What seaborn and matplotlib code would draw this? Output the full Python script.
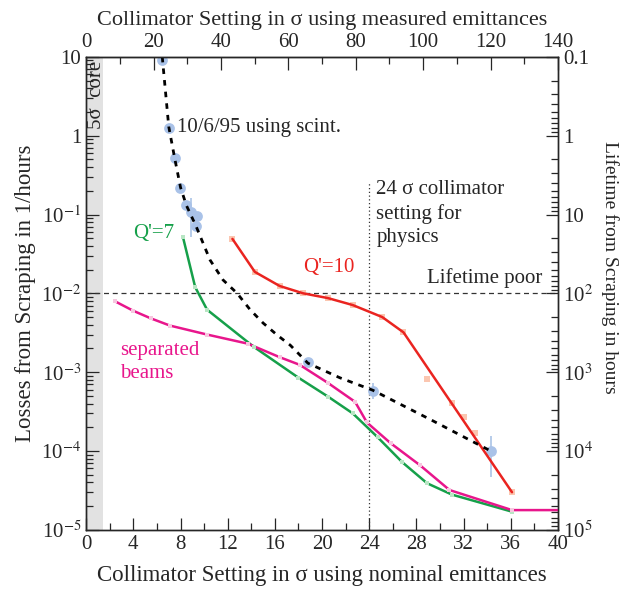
import numpy as np
import pandas as pd
import seaborn as sn
import matplotlib.pyplot as plt
from matplotlib.ticker import FuncFormatter, LogLocator, MultipleLocator, NullFormatter

sn.set_style("ticks")
plt.rcParams['font.family'] = ['Liberation Serif', 'DejaVu Serif']
plt.rcParams['mathtext.fontset'] = 'stix'

# scint. measurement 10/6/95 (blue points) and the fit (black dotted)
scint_x = [6.45, 7.0, 7.55, 7.95, 8.45, 8.9, 9.4, 9.3, 18.8, 24.3, 34.3]
scint_y = [9.2, 1.26, 0.52, 0.22, 0.132, 0.108, 0.096, 0.072, 1.33e-3, 5.8e-4, 1.0e-4]
err_x = [8.9, 24.3, 34.3]
err_lo = [0.052, 4.6e-4, 4.7e-5]
err_hi = [0.16, 7.2e-4, 1.55e-4]
fit_x = [6.45, 7.0, 7.5, 8.0, 8.5, 9.3, 10.5, 11.6, 12.8, 13.9, 15.0, 16.2, 17.3, 18.8, 21.5, 24.3, 29.2, 34.3]
fit_y = [10.0, 1.3, 0.52, 0.22, 0.13, 0.072, 0.0265, 0.0148, 0.01, 6.2e-3, 4.2e-3, 2.95e-3, 2.2e-3, 1.3e-3, 8.5e-4, 5.9e-4, 2.5e-4, 1.0e-4]

# Q'=7 (green)
q7_x = [8.2, 9.24, 10.25, 14.2, 18.0, 20.5, 22.6, 24.7, 26.8, 28.9, 31.0, 36.1]
q7_y = [0.052, 0.012, 6.2e-3, 2.1e-3, 8.5e-4, 4.9e-4, 3.0e-4, 1.5e-4, 7.2e-5, 3.9e-5, 2.8e-5, 1.7e-5]

# Q'=10 (red)
q10_x = [12.4, 14.3, 16.4, 18.4, 20.5, 22.6, 25.1, 26.9, 36.1]
q10_y = [0.049, 0.0187, 0.0124, 0.010, 8.7e-3, 7.1e-3, 5.0e-3, 3.2e-3, 3.0e-5]
q10_pts_x = [28.9, 31.0, 32.0, 33.0]
q10_pts_y = [8.2e-4, 4.1e-4, 2.7e-4, 1.7e-4]

# separated beams (magenta)
sep_x = [2.46, 4.0, 5.5, 7.1, 10.25, 13.7, 16.4, 18.1, 20.5, 22.8, 23.8, 25.8, 28.3, 30.8, 36.1, 40.0]
sep_y = [7.9e-3, 6.0e-3, 4.8e-3, 3.9e-3, 3.0e-3, 2.3e-3, 1.55e-3, 1.24e-3, 7.3e-4, 4.2e-4, 2.3e-4, 1.26e-4, 6.6e-5, 3.2e-5, 1.78e-5, 1.78e-5]

green = '#16a04a'
red = '#ea2420'
magenta = '#e8168c'

fig, ax = plt.subplots(figsize=(6.2, 5.92), dpi=100)
fig.subplots_adjust(left=0.139, right=0.9, bottom=0.105, top=0.904)

ax.axvspan(0, 1.43, color='#e2e2e2', lw=0, zorder=0)
ax.axhline(1e-2, color='#333333', ls=(0, (4, 3)), lw=0.9, zorder=1)
ax.plot([24, 24], [1e-5, 0.25], color='#333333', ls=(0, (1, 2)), lw=0.9, zorder=1)

sn.lineplot(x=q7_x, y=q7_y, color=green, lw=1.8, ax=ax, sort=False, zorder=3)
sn.scatterplot(x=q7_x, y=q7_y, color='#b8e6c4', marker='s', s=8, lw=0, ax=ax, zorder=4)
sn.lineplot(x=q10_x, y=q10_y, color=red, lw=1.8, ax=ax, sort=False, zorder=3)
sn.scatterplot(x=q10_x + q10_pts_x, y=q10_y + q10_pts_y, color='#fbc6b0', marker='s', s=16, lw=0, ax=ax, zorder=2)
sn.lineplot(x=sep_x, y=sep_y, color=magenta, lw=1.8, ax=ax, sort=False, zorder=3)
sn.scatterplot(x=sep_x[:-1], y=sep_y[:-1], color='#f7c6df', marker='s', s=8, lw=0, ax=ax, zorder=4)

ax.vlines(err_x, err_lo, err_hi, color='#aac4e6', lw=1.2, zorder=2)
sn.scatterplot(x=scint_x, y=scint_y, color='#a9c2e8', s=60, lw=0, ax=ax, zorder=2)
sn.lineplot(x=fit_x, y=fit_y, color='black', lw=2, ls=(0, (2, 2.2)), ax=ax, sort=False, zorder=5)

ax.set_yscale('log')
ax.set_xlim(0, 40)
ax.set_ylim(1e-5, 10)

def left_fmt(v, pos):
    e = int(round(np.log10(v)))
    if e == 1:
        return '10'
    if e == 0:
        return '1'
    return '10$^{%d}$' % e

def right_fmt(v, pos):
    e = int(round(np.log10(v)))
    if e == -1:
        return '0.1'
    if e == 0:
        return '1'
    if e == 1:
        return '10'
    return '10$^{%d}$' % e

def style_ticks(a):
    a.tick_params(which='both', direction='in', labelsize=15, width=0.9)
    a.tick_params(which='major', length=9)
    a.tick_params(which='minor', length=5)

ax.yaxis.set_major_locator(LogLocator(base=10, numticks=10))
ax.yaxis.set_minor_locator(LogLocator(base=10, subs=np.arange(2, 10), numticks=20))
ax.yaxis.set_major_formatter(FuncFormatter(left_fmt))
ax.yaxis.set_minor_formatter(NullFormatter())
ax.xaxis.set_major_locator(MultipleLocator(4))
ax.xaxis.set_minor_locator(MultipleLocator(2))
style_ticks(ax)

ax.set_xlabel('Collimator Setting in σ using nominal emittances', fontsize=16.5, labelpad=8)
ax.set_ylabel('Losses from Scraping in 1/hours', fontsize=16.5, labelpad=4)

top = ax.secondary_xaxis('top', functions=(lambda x: x * 3.5, lambda x: x / 3.5))
top.xaxis.set_major_locator(MultipleLocator(20))
top.xaxis.set_minor_locator(MultipleLocator(10))
style_ticks(top)
top.set_xlabel('Collimator Setting in σ using measured emittances', fontsize=16, labelpad=6)

# lifetime = 1 / losses
right = ax.twinx()
right.set_yscale('log')
right.set_ylim(1e5, 0.1)
right.yaxis.set_major_locator(LogLocator(base=10, numticks=10))
right.yaxis.set_minor_locator(LogLocator(base=10, subs=np.arange(2, 10), numticks=20))
right.yaxis.set_major_formatter(FuncFormatter(right_fmt))
right.yaxis.set_minor_formatter(NullFormatter())
style_ticks(right)
right.set_ylabel('Lifetime from Scraping in hours', fontsize=14, rotation=270, va='center')
right.yaxis.set_label_coords(1.11, 0.555)

for a in (ax, right):
    for s in a.spines.values():
        s.set_linewidth(1.0)

ax.text(0.85, 9.0, '5σ  core', rotation=90, ha='center', va='top', fontsize=15)
ax.text(7.7, 1.26, '10/6/95 using scint.', ha='left', va='center', fontsize=15)
ax.text(4.0, 0.058, "Q'=7", color=green, ha='left', va='center', fontsize=15)
ax.text(18.4, 0.0215, "Q'=10", color=red, ha='left', va='center', fontsize=15)
ax.text(2.9, 1.35e-3, 'separated\nbeams', color=magenta, ha='left', va='center', fontsize=15, linespacing=1.3)
ax.text(24.6, 0.27, '24 σ collimator\nsetting for\nphysics', ha='left', va='top', fontsize=15, linespacing=1.3)
ax.text(38.7, 0.0118, 'Lifetime poor', ha='right', va='bottom', fontsize=15)

plt.savefig('out.png', dpi=100)
plt.close()
